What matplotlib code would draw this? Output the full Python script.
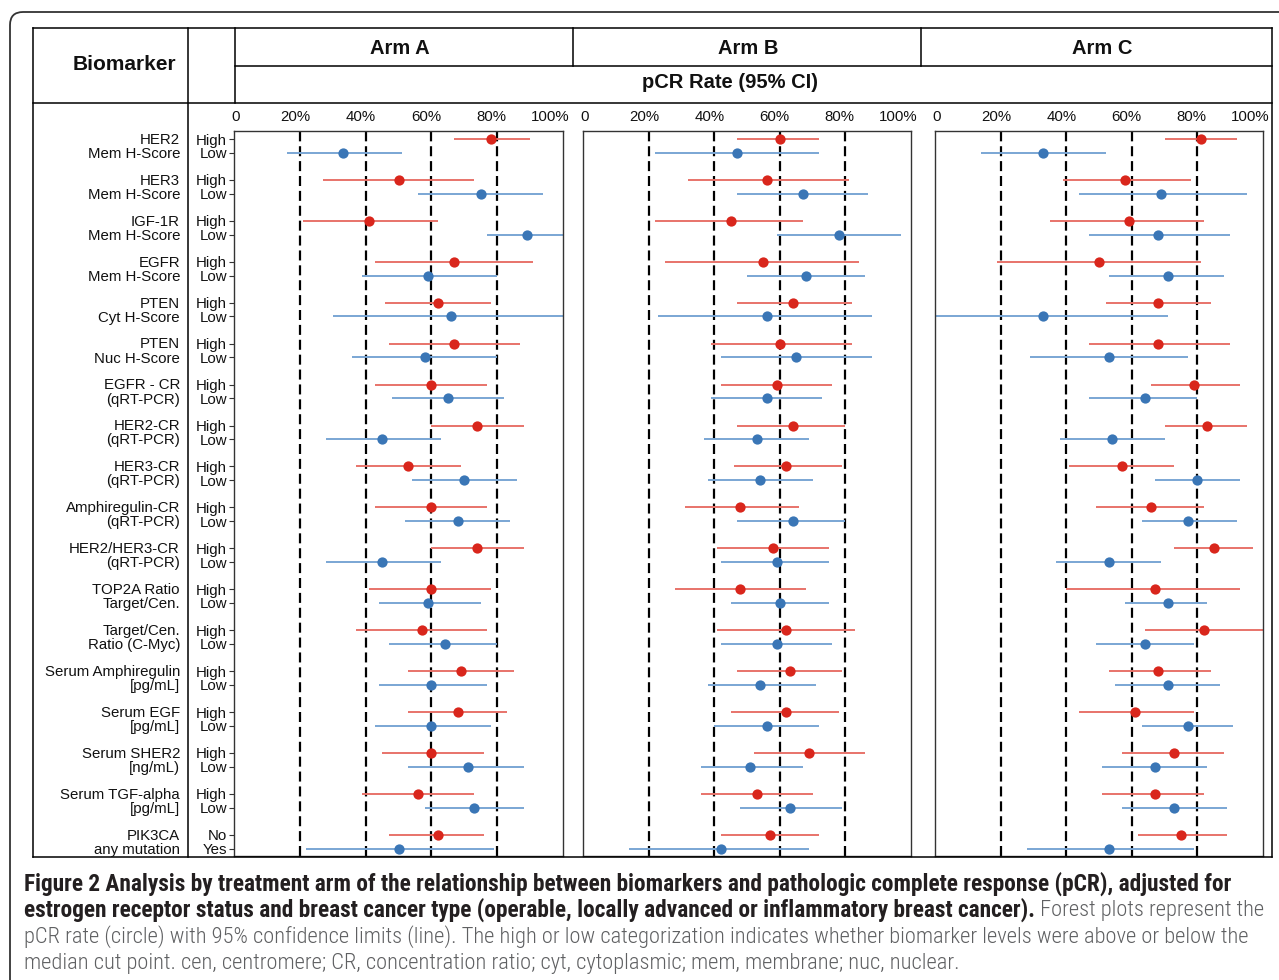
import numpy as np
import matplotlib
matplotlib.use('Agg')
import matplotlib.pyplot as plt
from matplotlib import font_manager
from matplotlib.lines import Line2D
from matplotlib.patches import FancyBboxPatch
import matplotlib.transforms as mtransforms

# ---------------- data ----------------
biomarker_line1 = ["HER2", "HER3", "IGF-1R", "EGFR", "PTEN", "PTEN", "EGFR - CR",
                   "HER2-CR", "HER3-CR", "Amphiregulin-CR", "HER2/HER3-CR",
                   "TOP2A Ratio", "Target/Cen.", "Serum Amphiregulin", "Serum EGF",
                   "Serum SHER2", "Serum TGF-alpha", "PIK3CA"]
biomarker_line2 = ["Mem H-Score", "Mem H-Score", "Mem H-Score", "Mem H-Score",
                   "Cyt H-Score", "Nuc H-Score", "(qRT-PCR)", "(qRT-PCR)", "(qRT-PCR)",
                   "(qRT-PCR)", "(qRT-PCR)", "Target/Cen.", "Ratio (C-Myc)",
                   "[pg/mL]", "[pg/mL]", "[ng/mL)", "[pg/mL]", "any mutation"]
level_labels = ["High", "Low"] * 17 + ["No", "Yes"]
level_kind = ["High", "Low"] * 18

arms = ["Arm A", "Arm B", "Arm C"]
x_tick_labels = ["0", "20%", "40%", "60%", "80%", "100%"]

arm_a_rate = [0.78, 0.33, 0.50, 0.75, 0.41, 0.89, 0.67, 0.59, 0.62, 0.66, 0.67, 0.58,
              0.60, 0.65, 0.74, 0.45, 0.53, 0.70, 0.60, 0.68, 0.74, 0.45, 0.60, 0.59,
              0.57, 0.64, 0.69, 0.60, 0.68, 0.60, 0.60, 0.71, 0.56, 0.73, 0.62, 0.50]
arm_a_lo = [0.67, 0.16, 0.27, 0.56, 0.21, 0.77, 0.43, 0.39, 0.46, 0.30, 0.47, 0.36,
            0.43, 0.48, 0.60, 0.28, 0.37, 0.54, 0.43, 0.52, 0.60, 0.28, 0.41, 0.44,
            0.37, 0.47, 0.53, 0.44, 0.53, 0.43, 0.45, 0.53, 0.39, 0.58, 0.47, 0.22]
arm_a_hi = [0.90, 0.51, 0.73, 0.94, 0.62, 1.00, 0.91, 0.80, 0.78, 1.00, 0.87, 0.80,
            0.77, 0.82, 0.88, 0.63, 0.69, 0.86, 0.77, 0.84, 0.88, 0.63, 0.78, 0.75,
            0.77, 0.80, 0.85, 0.77, 0.83, 0.78, 0.76, 0.88, 0.73, 0.88, 0.76, 0.79]

arm_b_rate = [0.60, 0.47, 0.56, 0.67, 0.45, 0.78, 0.55, 0.68, 0.64, 0.56, 0.60, 0.65,
              0.59, 0.56, 0.64, 0.53, 0.62, 0.54, 0.48, 0.64, 0.58, 0.59, 0.48, 0.60,
              0.62, 0.59, 0.63, 0.54, 0.62, 0.56, 0.69, 0.51, 0.53, 0.63, 0.57, 0.42]
arm_b_lo = [0.47, 0.22, 0.32, 0.47, 0.22, 0.59, 0.25, 0.50, 0.47, 0.23, 0.39, 0.42,
            0.42, 0.39, 0.47, 0.37, 0.46, 0.38, 0.31, 0.47, 0.41, 0.42, 0.28, 0.45,
            0.41, 0.42, 0.47, 0.38, 0.45, 0.40, 0.52, 0.36, 0.36, 0.48, 0.42, 0.14]
arm_b_hi = [0.72, 0.72, 0.81, 0.87, 0.67, 0.97, 0.84, 0.86, 0.82, 0.88, 0.82, 0.88,
            0.76, 0.73, 0.80, 0.69, 0.79, 0.70, 0.66, 0.80, 0.75, 0.75, 0.68, 0.75,
            0.83, 0.76, 0.79, 0.71, 0.78, 0.72, 0.86, 0.67, 0.70, 0.79, 0.72, 0.69]

arm_c_rate = [0.81, 0.33, 0.58, 0.69, 0.59, 0.68, 0.50, 0.71, 0.68, 0.33, 0.68, 0.53,
              0.79, 0.64, 0.83, 0.54, 0.57, 0.80, 0.66, 0.77, 0.85, 0.53, 0.67, 0.71,
              0.82, 0.64, 0.68, 0.71, 0.61, 0.77, 0.73, 0.67, 0.67, 0.73, 0.75, 0.53]
arm_c_lo = [0.70, 0.14, 0.39, 0.44, 0.35, 0.47, 0.19, 0.53, 0.52, 0.00, 0.47, 0.29,
            0.66, 0.47, 0.70, 0.38, 0.41, 0.67, 0.49, 0.63, 0.73, 0.37, 0.40, 0.58,
            0.64, 0.49, 0.53, 0.55, 0.44, 0.63, 0.57, 0.51, 0.51, 0.57, 0.62, 0.28]
arm_c_hi = [0.92, 0.52, 0.78, 0.95, 0.82, 0.90, 0.81, 0.88, 0.84, 0.71, 0.90, 0.77,
            0.93, 0.80, 0.95, 0.70, 0.73, 0.93, 0.82, 0.92, 0.97, 0.69, 0.93, 0.83,
            1.00, 0.79, 0.84, 0.87, 0.79, 0.91, 0.88, 0.83, 0.82, 0.89, 0.89, 0.79]

caption_bold_1 = ("Figure 2 Analysis by treatment arm of the relationship between biomarkers "
                  "and pathologic complete response (pCR), adjusted for")
caption_bold_2 = ("estrogen receptor status and breast cancer type (operable, locally "
                  "advanced or inflammatory breast cancer).")
caption_reg_2 = " Forest plots represent the"
caption_reg_3 = ("pCR rate (circle) with 95% confidence limits (line). The high or low "
                 "categorization indicates whether biomarker levels were above or below the")
caption_reg_4 = ("median cut point. cen, centromere; CR, concentration ratio; cyt, "
                 "cytoplasmic; mem, membrane; nuc, nuclear.")

# ---------------- styling ----------------
W, H = 1279, 980
plt.rcParams['font.family'] = ['Liberation Sans', 'DejaVu Sans']
fig = plt.figure(figsize=(W / 100, H / 100), dpi=100)
fig.patch.set_facecolor('white')


def fx(px):
    return px / W


def fy(py):
    return 1 - py / H


RED_PT, RED_LN = '#d9261c', '#e8736a'
BLUE_PT, BLUE_LN = '#3a76b6', '#7aa6d4'
LBL_FS = 10.8

n_pairs = len(biomarker_line1)
pair_idx = np.repeat(np.arange(n_pairs), 2)
offset = np.tile([-0.1675, 0.1675], n_pairs)
row_y = pair_idx + offset

panel_x = [(234, 563), (583, 911), (935, 1263)]
panel_top, panel_bot = 131, 856
tick_pos = [0.004, 0.186, 0.385, 0.584, 0.782, 0.962]
series = [(arm_a_rate, arm_a_lo, arm_a_hi),
          (arm_b_rate, arm_b_lo, arm_b_hi),
          (arm_c_rate, arm_c_lo, arm_c_hi)]

axes = []
for k, ((x0, x1), (rate, lo, hi)) in enumerate(zip(panel_x, series)):
    ax = fig.add_axes([fx(x0), fy(panel_bot), (x1 - x0) / W, (panel_bot - panel_top) / H])
    axes.append(ax)
    ax.set_xlim(0, 1)
    ax.set_ylim(17.35, -0.363)
    for v in [0.2, 0.4, 0.6, 0.8]:
        ax.axvline(v, color='black', lw=1.6, ls=(0, (4.5, 2.2)), zorder=1)
    for i in range(len(rate)):
        hiC = level_kind[i] == "High"
        ax.hlines(row_y[i], lo[i], hi[i], color=RED_LN if hiC else BLUE_LN,
                  lw=1.4, zorder=2)
        ax.plot(rate[i], row_y[i], 'o', color=RED_PT if hiC else BLUE_PT,
                ms=7.4, mec='none', zorder=3)
    for s in ax.spines.values():
        s.set_color('#333333')
        s.set_linewidth(1.0)
    ax.set_xticks(tick_pos)
    ax.set_xticklabels(x_tick_labels, fontsize=LBL_FS, color='#111111')
    ax.tick_params(axis='x', top=True, labeltop=True, bottom=False, labelbottom=False,
                   length=0, pad=4.8)
    if k == 0:
        ax.set_yticks(row_y)
        ax.set_yticklabels(level_labels, fontsize=LBL_FS, color='#111111')
        ax.tick_params(axis='y', length=3.5, width=0.8, pad=1.5, color='#333333')
    else:
        ax.set_yticks([])

# biomarker labels
axA = axes[0]
trans = mtransforms.blended_transform_factory(fig.transFigure, axA.transData)
for i in range(n_pairs):
    fig.text(fx(180), i - 0.1675 + 0.02, biomarker_line1[i], transform=trans, ha='right',
             va='center', fontsize=LBL_FS, color='#111111')
    fig.text(fx(180), i + 0.1675 + 0.03, biomarker_line2[i], transform=trans, ha='right',
             va='center', fontsize=LBL_FS, color='#111111')

# table lines
def hline(y, x0, x1, lw=1.1):
    fig.add_artist(Line2D([fx(x0), fx(x1)], [fy(y), fy(y)], color='black', lw=lw,
                          transform=fig.transFigure))


def vline(x, y0, y1, lw=1.1):
    fig.add_artist(Line2D([fx(x), fx(x)], [fy(y0), fy(y1)], color='black', lw=lw,
                          transform=fig.transFigure))


hline(28, 33, 1272)
hline(857, 33, 1272)
vline(33, 28, 857)
vline(1272, 28, 857)
vline(188, 28, 857)
vline(235, 28, 103)
vline(573, 28, 66)
vline(921, 28, 66)
hline(66, 235, 1272)
hline(103, 33, 1272)

# header text
fig.text(fx(124), fy(65), "Biomarker", ha='center', va='center', fontsize=15,
         weight='bold', color='#111111')
for name, cx in zip(arms, [400, 748, 1102]):
    fig.text(fx(cx), fy(49), name, ha='center', va='center', fontsize=14.5,
             weight='bold', color='#111111')
fig.text(fx(730), fy(83), "pCR Rate (95% CI)", ha='center', va='center', fontsize=14.5,
         weight='bold', color='#111111')

# rounded outer border
border = FancyBboxPatch((0.10, -0.25), 13.2, (980 - 12) / 100 + 0.25,
                        boxstyle='round,pad=0,rounding_size=0.13',
                        transform=fig.dpi_scale_trans, fill=False,
                        edgecolor='#333333', lw=1.3)
fig.add_artist(border)

# caption
avail = {f.name for f in font_manager.fontManager.ttflist}
cap_family = next((f for f in ['Liberation Sans Narrow', 'Roboto Condensed',
                               'Open Sans Condensed'] if f in avail), 'Liberation Sans')
renderer = fig.canvas.get_renderer()
REG_W = 'light'


def text_width(txt, weight, size):
    t = fig.text(0, 0, txt, fontsize=size, family=cap_family, weight=weight)
    w = t.get_window_extent(renderer).width
    t.remove()
    return w


bold_fs = 10 * 1213 / text_width(caption_bold_1, 'bold', 10)
reg_fs = 10 * 1223 / text_width(caption_reg_3, REG_W, 10)
BOLD_C, REG_C = '#231f20', '#5f6062'
fig.text(fx(24), fy(884), caption_bold_1, fontsize=bold_fs, family=cap_family,
         weight='bold', color=BOLD_C, va='center')
fig.text(fx(24), fy(910), caption_bold_2, fontsize=bold_fs, family=cap_family,
         weight='bold', color=BOLD_C, va='center')
wb = text_width(caption_bold_2, 'bold', bold_fs)
fig.text(fx(24 + wb), fy(910), caption_reg_2, fontsize=reg_fs, family=cap_family,
         weight=REG_W, color=REG_C, va='center')
fig.text(fx(24), fy(937), caption_reg_3, fontsize=reg_fs, family=cap_family,
         weight=REG_W, color=REG_C, va='center')
fig.text(fx(24), fy(963), caption_reg_4, fontsize=reg_fs, family=cap_family,
         weight=REG_W, color=REG_C, va='center')

fig.savefig('out.png', dpi=100, facecolor='white')
